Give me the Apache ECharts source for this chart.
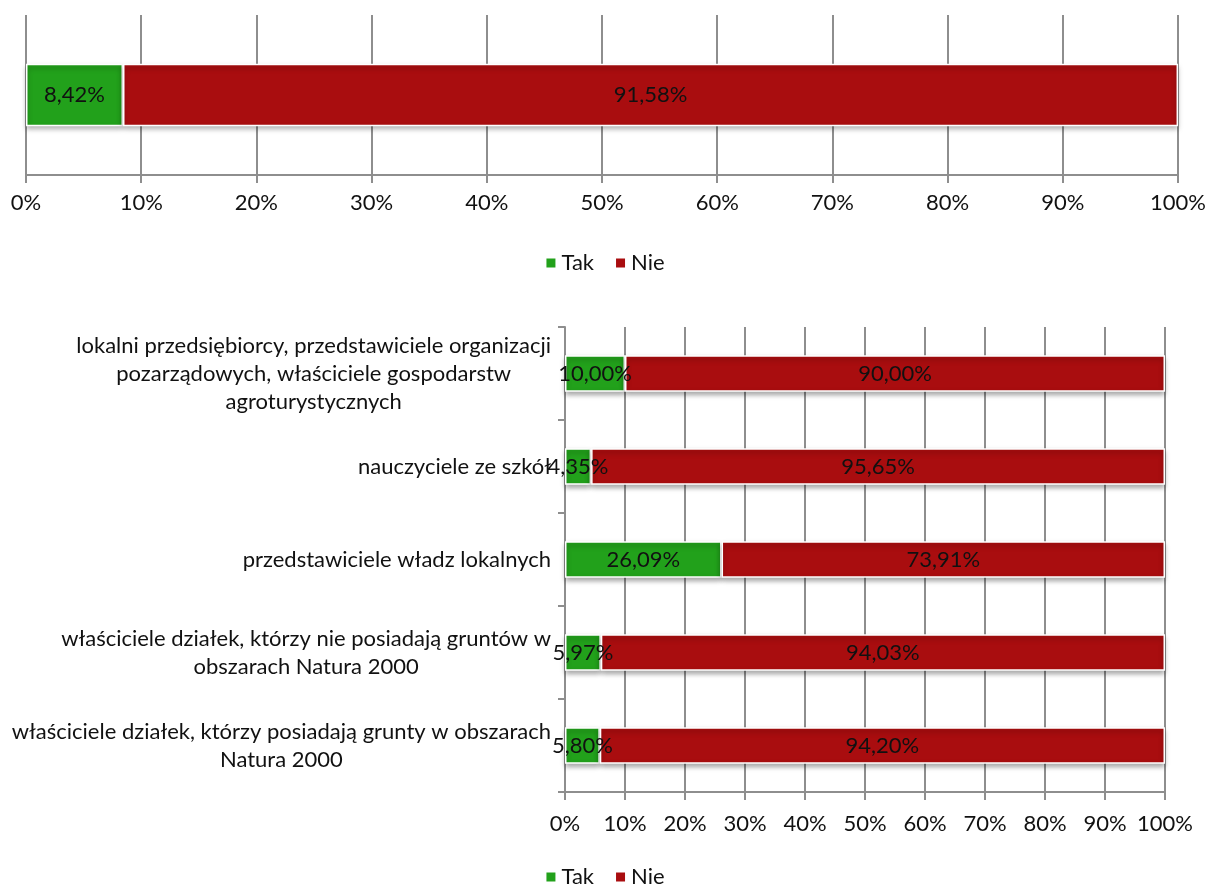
<!DOCTYPE html>
<html>
<head>
<meta charset="utf-8">
<script src="https://cdn.jsdelivr.net/npm/echarts@6/dist/echarts.min.js"></script>
<style>
  html, body { margin: 0; padding: 0; background: #fff; }
  #echart { width: 1209px; height: 884px; }
</style>
</head>
<body>
<div id="echart"></div>
<script>
// data - top chart (all respondents)
var totalCategory = ['Ogółem'];
var totalTak = [8.42];
var totalNie = [91.58];

// data - bottom chart (groups, listed top to bottom)
var groupCategories = [
    'lokalni przedsiębiorcy, przedstawiciele organizacji\npozarządowych, właściciele gospodarstw\nagroturystycznych',
    'nauczyciele ze szkół',
    'przedstawiciele władz lokalnych',
    'właściciele działek, którzy nie posiadają gruntów w\nobszarach Natura 2000',
    'właściciele działek, którzy posiadają grunty w obszarach\nNatura 2000'
];
var groupTak = [10.00, 4.35, 26.09, 5.97, 5.80];
var groupNie = [90.00, 95.65, 73.91, 94.03, 94.20];

var seriesNames = ['Tak', 'Nie'];
var tickValues = [0, 10, 20, 30, 40, 50, 60, 70, 80, 90, 100];

var GREEN = '#22a11b';
var RED = '#a90d0f';
var GRID_COLOR = '#8e8e8e';
var FONT = 'Lato';
var FS = 22;

var chartDom = document.getElementById('echart');
var myChart = echarts.init(chartDom);

function pct(v) {
    return v.toFixed(2).replace('.', ',') + '%';
}

function barSeries(name, data, color, idx) {
    return {
        name: name,
        type: 'bar',
        stack: 'total' + idx,
        xAxisIndex: idx,
        yAxisIndex: idx,
        barWidth: '39%',
        data: data,
        itemStyle: {
            color: color,
            borderColor: '#ffffff',
            borderWidth: 1.5,
            shadowColor: 'rgba(0,0,0,0.35)',
            shadowBlur: 5,
            shadowOffsetY: 3
        },
        label: {
            show: true,
            position: 'inside',
            color: '#111',
            fontFamily: FONT,
            fontSize: FS,
            formatter: function (p) { return pct(p.value); }
        }
    };
}

function valueAxis(idx, labelMargin) {
    return {
        type: 'value',
        gridIndex: idx,
        min: 0,
        max: 100,
        interval: 10,
        axisLine: { show: true, lineStyle: { color: GRID_COLOR, width: 2 } },
        axisTick: { show: true, length: 8, lineStyle: { color: GRID_COLOR, width: 2 } },
        splitLine: { show: true, lineStyle: { color: GRID_COLOR, width: 2 } },
        axisLabel: {
            margin: labelMargin,
            color: '#111',
            fontFamily: FONT,
            fontSize: FS,
            formatter: function (v) { return tickValues.indexOf(v) >= 0 ? v + '%' : ''; }
        }
    };
}

var legendBase = {
    data: seriesNames,
    left: 'center',
    itemWidth: 11,
    itemHeight: 11,
    itemGap: 20,
    icon: 'rect',
    textStyle: { fontFamily: FONT, fontSize: FS, color: '#111' }
};

option = {
    animation: false,
    textStyle: { fontFamily: FONT },
    grid: [
        { left: 26, right: 29, top: 15, height: 160 },
        { left: 565, right: 44, top: 327, height: 465 }
    ],
    legend: [
        Object.assign({}, legendBase, { top: 247 }),
        Object.assign({}, legendBase, { top: 861 })
    ],
    xAxis: [valueAxis(0, 17), valueAxis(1, 21)],
    yAxis: [
        {
            type: 'category',
            gridIndex: 0,
            data: totalCategory,
            axisLine: { show: false },
            axisTick: { show: false },
            axisLabel: { show: false }
        },
        {
            type: 'category',
            gridIndex: 1,
            inverse: true,
            data: groupCategories,
            axisLine: { show: true, lineStyle: { color: GRID_COLOR, width: 2 } },
            axisTick: { show: true, length: 7, lineStyle: { color: GRID_COLOR, width: 2 } },
            axisLabel: {
                margin: 14,
                color: '#111',
                fontFamily: FONT,
                fontSize: FS,
                lineHeight: 28,
                formatter: function (v) {
                    return v.split('\n').map(function (l) { return '{c|' + l + '}'; }).join('\n');
                },
                rich: {
                    c: { align: 'center', fontFamily: FONT, fontSize: FS, lineHeight: 28, color: '#111' }
                }
            }
        }
    ],
    series: [
        barSeries('Tak', totalTak, GREEN, 0),
        barSeries('Nie', totalNie, RED, 0),
        barSeries('Tak', groupTak, GREEN, 1),
        barSeries('Nie', groupNie, RED, 1)
    ]
};

myChart.setOption(option);

window.addEventListener('resize', function () {
    myChart.resize();
});
</script>
</body>
</html>
